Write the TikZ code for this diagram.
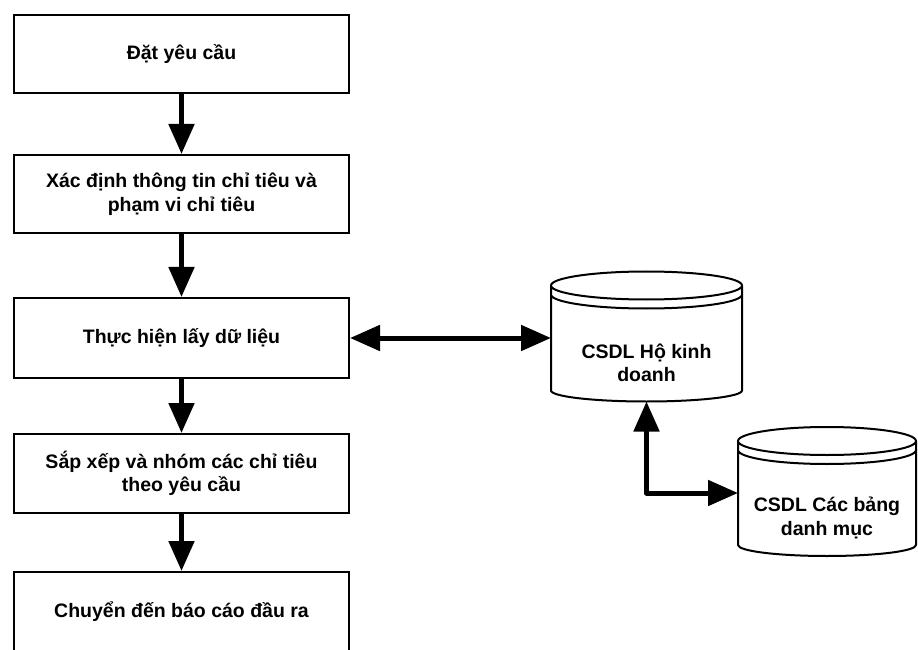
\documentclass[tikz,border=0pt]{standalone}
\usepackage{fontspec}
\setmainfont{Liberation Sans}
\usetikzlibrary{arrows.meta,calc}

% database symbol: top disc with an extra ring, straight sides, rounded bottom
\newcommand\drawdb[1]{%
  \draw[dbline] let \p1=(#1.north west), \p2=(#1.south east), \n1={(\x2-\x1)/2} in
    (#1.north) ellipse [x radius=\n1, y radius=14pt]
    ([yshift=-9pt]#1.north west) arc [start angle=180, end angle=360, x radius=\n1, y radius=14pt]
    (#1.north west) -- (#1.south west)
      arc [start angle=180, end angle=360, x radius=\n1, y radius=11pt]
      -- (#1.north east);
}

\tikzset{
  txt/.style={font=\bfseries\fontsize{19.5}{23.5}\selectfont, align=center},
  stepbox/.style={draw, line width=2pt, minimum width=335pt, minimum height=78pt,
    inner sep=0pt, txt},
  dbbody/.style={inner sep=0pt, outer sep=0pt},
  dbline/.style={line width=2pt, line join=round},
  dblabel/.style={txt, yshift=-25pt},
  bigtip/.tip={Triangle[length=30pt, width=25pt]},
  flow/.style={line width=5pt, -bigtip},
  twoway/.style={line width=5pt, bigtip-bigtip, line join=round},
}

\begin{document}
\begin{tikzpicture}[x=1pt, y=1pt]
  \useasboundingbox (0,0) rectangle (918,649);

  % process steps
  \node[stepbox] (s1) at (181.5,595) {Đặt yêu cầu};
  \node[stepbox] (s2) at (181.5,455) {Xác định thông tin chỉ tiêu và\\phạm vi chỉ tiêu};
  \node[stepbox, minimum height=80pt] (s3) at (181.5,311) {Thực hiện lấy dữ liệu};
  \node[stepbox, minimum height=79pt] (s4) at (181.5,175.5) {Sắp xếp và nhóm các chỉ tiêu\\theo yêu cầu};
  \node[stepbox, minimum height=80pt] (s5) at (181.5,37) {Chuyển đến báo cáo đầu ra};

  % databases
  \node[dbbody, minimum width=191pt, minimum height=105pt,
        label={[dblabel]center:CSDL Hộ kinh\\doanh}] (db1) at (646.5,311) {};
  \node[dbbody, minimum width=178pt, minimum height=104pt,
        label={[dblabel]center:CSDL Các bảng\\danh mục}] (db2) at (827,156) {};
  \drawdb{db1}
  \drawdb{db2}
  \coordinate (db1b) at ($(db1.south)+(0,-11)$);

  % connectors
  \draw[flow] (s1) -- (s2);
  \draw[flow] (s2) -- (s3);
  \draw[flow] (s3) -- (s4);
  \draw[flow] (s4) -- (s5);
  \draw[twoway] (s3.east) -- (db1.west);
  \draw[twoway] (db1b) |- (db2.west);
\end{tikzpicture}
\end{document}
